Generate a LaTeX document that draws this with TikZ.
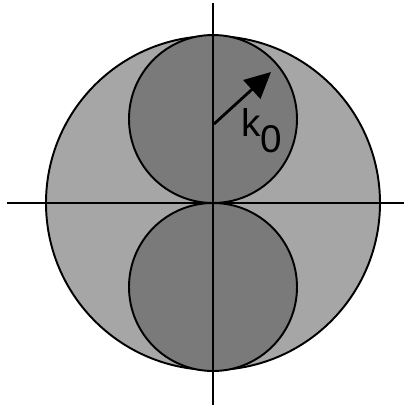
\documentclass[tikz,border=0pt]{standalone}
\usepackage{fontspec}
\setsansfont{Liberation Sans}
\usetikzlibrary{arrows.meta, positioning}

\begin{document}
\begin{tikzpicture}[
    x=0.02cm, y=-0.02cm,
    outer/.style={draw=black, line width=1.1pt, fill=black!35},
    inner/.style={draw=black, line width=1.1pt, fill=black!52},
    axis/.style={draw=black, line width=1.1pt},
    arrow/.style={-{Triangle[length=0.52cm, width=0.5cm]}, line width=1.6pt}
]
\useasboundingbox (0,0) rectangle (404,407);
% circles
\coordinate (o) at (213,203);
\coordinate (ctop) at (213,119);
\coordinate (cbot) at (213,287);
\fill[outer] (o) circle (167);
\fill[inner] (ctop) circle (84);
\fill[inner] (cbot) circle (84);
% axes
\coordinate (xl) at (7,203);
\coordinate (xr) at (404,203);
\coordinate (yt) at (213,3);
\coordinate (yb) at (213,405);
\draw[axis] (xl) -- (xr);
\draw[axis] (yt) -- (yb);
% radius arrow
\coordinate (a0) at (214,124);
\coordinate (a1) at (271,72);
\draw[arrow] (a0) -- (a1);
\node (k) at (262,131) {\sffamily\fontsize{22}{24}\selectfont k\raisebox{-9pt}{0}};
\end{tikzpicture}
\end{document}
